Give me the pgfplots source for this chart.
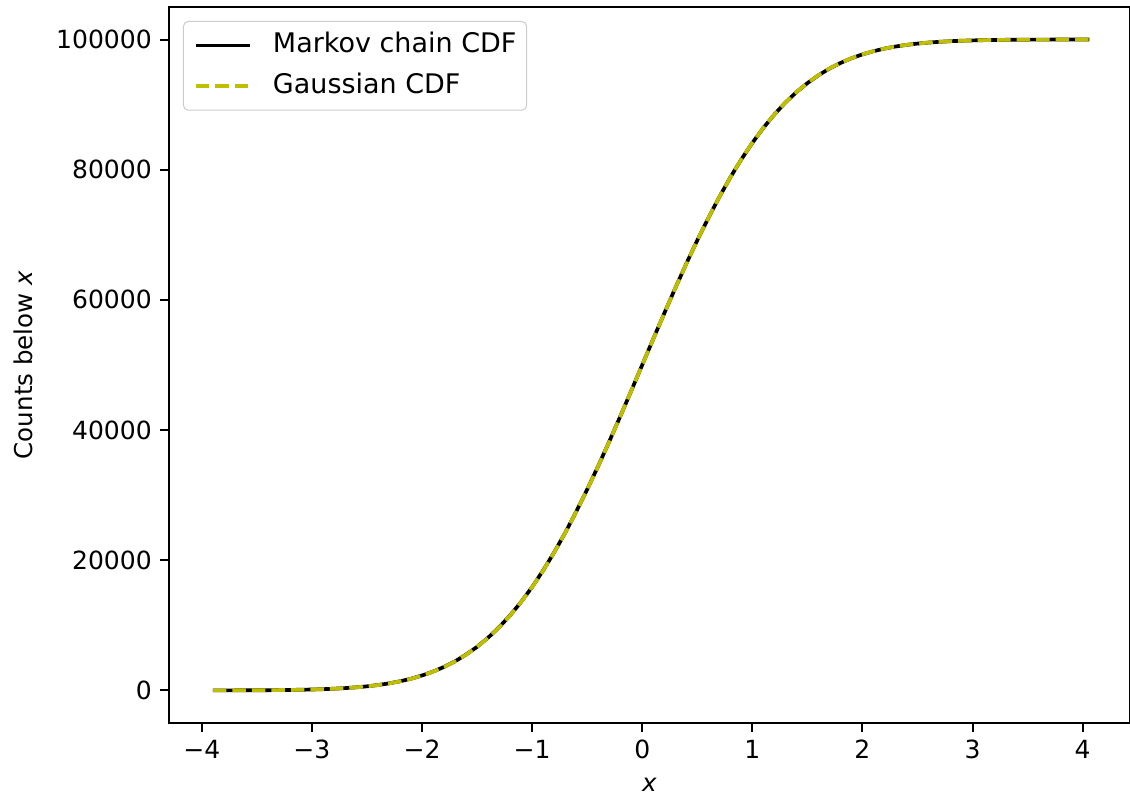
\documentclass[border=0pt]{standalone}
\usepackage{pgfplots}
\pgfplotsset{compat=1.18}
\usepackage{pgfplotstable}
\usepackage{fontspec}
\setmainfont{DejaVu Sans}

\definecolor{mplyellow}{rgb}{0.75,0.75,0}
\definecolor{legendedge}{gray}{0.8}

% x, Markov chain counts, Gaussian counts
\pgfplotstableread{
x mc g
-3.9 4 5
-3.8 7 7
-3.7 10 11
-3.6 15 16
-3.5 22 23
-3.4 33 34
-3.3 47 48
-3.2 70 69
-3.1 99 97
-3.0 137 135
-2.9 190 187
-2.8 259 256
-2.7 352 347
-2.6 470 466
-2.5 625 621
-2.4 827 820
-2.3 1080 1072
-2.2 1401 1390
-2.1 1795 1786
-2.0 2290 2275
-1.9 2885 2872
-1.8 3610 3593
-1.7 4470 4457
-1.6 5502 5480
-1.5 6690 6681
-1.4 8096 8076
-1.3 9702 9680
-1.2 11530 11507
-1.1 13590 13567
-1.0 15880 15866
-0.9 18430 18406
-0.8 21200 21186
-0.7 24210 24196
-0.6 27440 27425
-0.5 30870 30854
-0.4 34470 34458
-0.3 38220 38209
-0.2 42080 42074
-0.1 46020 46017
0.0 50010 50000
0.1 53990 53983
0.2 57930 57926
0.3 61800 61791
0.4 65550 65542
0.5 69150 69146
0.6 72570 72575
0.7 75800 75804
0.8 78810 78814
0.9 81590 81594
1.0 84120 84134
1.1 86420 86433
1.2 88480 88493
1.3 90310 90320
1.4 91910 91924
1.5 93300 93319
1.6 94505 94520
1.7 95530 95543
1.8 96395 96407
1.9 97120 97128
2.0 97715 97725
2.1 98205 98214
2.2 98605 98610
2.3 98925 98928
2.4 99175 99180
2.5 99375 99379
2.6 99530 99534
2.7 99650 99653
2.8 99742 99744
2.9 99812 99813
3.0 99864 99865
3.1 99902 99903
3.2 99931 99931
3.3 99952 99952
3.4 99966 99966
3.5 99977 99977
3.6 99984 99984
3.7 99989 99989
3.8 99993 99993
3.9 99995 99995
4.06 99998 99998
}\cdf

\begin{document}
\begin{tikzpicture}
\begin{axis}[
    scale only axis,
    width=391.8pt,
    height=291.9pt,
    xmin=-4.298, xmax=4.43,
    ymin=-5000, ymax=105000,
    axis line style={line width=0.8pt},
    tick align=outside,
    tick pos=left,
    major tick length=3.5pt,
    every tick/.style={line width=0.8pt, black},
    xtick={-4,-3,...,4},
    xticklabels={−4,−3,−2,−1,0,1,2,3,4},
    ytick={0,20000,...,100000},
    yticklabels={0,20000,40000,60000,80000,100000},
    scaled y ticks=false,
    ticklabel style={font=\fontsize{10.2}{12}\selectfont},
    label style={font=\fontsize{10}{12}\selectfont},
    xlabel={\textit{x}},
    xlabel style={yshift=-1pt},
    ylabel={Counts below \textit{x}},
    ylabel style={yshift=2.6pt},
    legend cell align=left,
    legend style={
        at={(rel axis cs:0,1)}, anchor=north west,
        xshift=5.7pt, yshift=-5.7pt,
        draw=legendedge, fill=white, fill opacity=0.8, text opacity=1,
        rounded corners=2pt,
        font=\fontsize{11}{13}\selectfont,
        inner xsep=4.2pt, inner ysep=4.5pt,
        row sep=6.2pt,
        column sep=0pt,
        nodes={inner sep=0pt, text height=8pt, text depth=2.5pt},
    },
    legend image code/.code={
        \draw[#1] (0pt,0pt) -- (22pt,0pt);
    },
]
\addplot[black, line width=1.5pt] table[x=x, y=mc] {\cdf};
\addlegendentry{\hspace{8.8pt}Markov chain CDF}
\addplot[mplyellow, line width=1.5pt, dash pattern=on 5.55pt off 2.4pt] table[x=x, y=g] {\cdf};
\addlegendentry{\hspace{8.8pt}Gaussian CDF}
\coordinate (ll) at (rel axis cs:0,0);
\coordinate (ur) at (rel axis cs:1,1);
\end{axis}
\pgfresetboundingbox
\path ([xshift=-68.9pt,yshift=-33.4pt]ll) rectangle ([yshift=2.85pt]ur);
\end{tikzpicture}
\end{document}
